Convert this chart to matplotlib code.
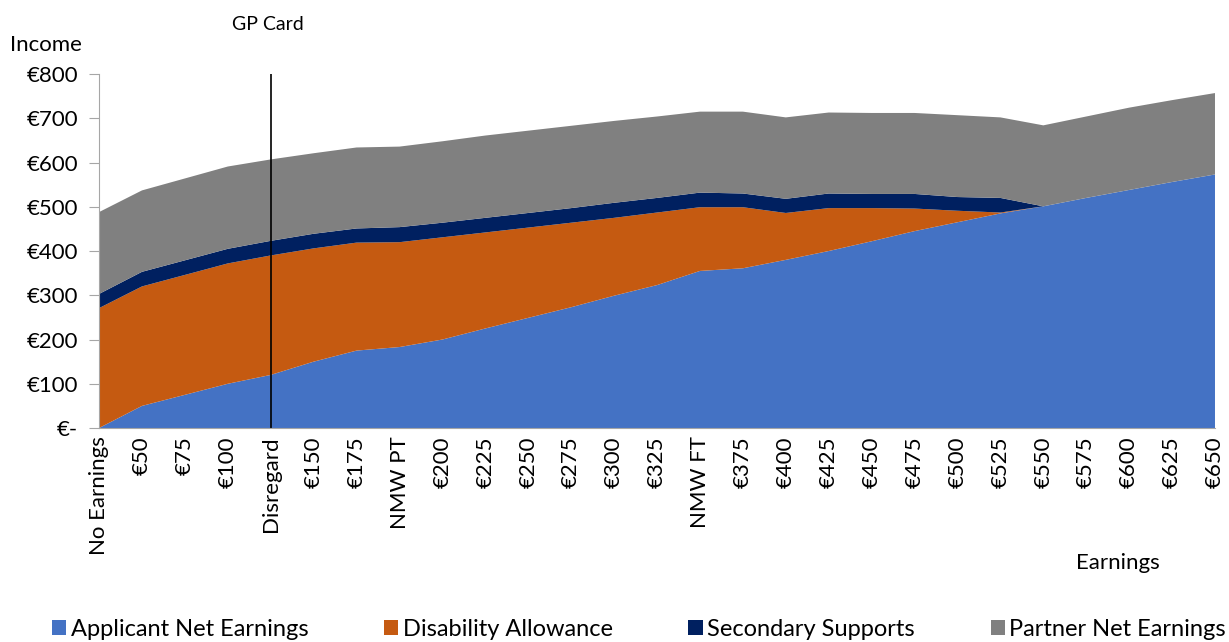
import matplotlib.pyplot as plt
import numpy as np

# Категорії заробітку (вісь X)
categories = ['No Earnings', '€50', '€75', '€100', 'Disregard', '€150', '€175', 'NMW PT',
              '€200', '€225', '€250', '€275', '€300', '€325', 'NMW FT', '€375', '€400',
              '€425', '€450', '€475', '€500', '€525', '€550', '€575', '€600', '€625', '€650']

# Складові доходу
applicant_net = [0, 50, 75, 100, 120, 150, 175, 183, 200, 225, 249, 273, 299, 323, 355, 361,
                 380, 400, 422, 445, 465, 485, 501, 520, 538, 556, 573]
disability_allowance = [271, 270, 271, 272, 270, 256, 244, 237, 231, 217, 204, 191, 176, 164,
                        144, 138, 106, 97, 75, 51, 26, 2, 0, 0, 0, 0, 0]
secondary_supports = [32, 33, 33, 33, 33, 33, 32, 34, 33, 33, 33, 33, 34, 33, 33, 31, 32, 33,
                      32, 33, 31, 33, 0, 0, 0, 0, 0]
partner_net = [185, 184, 185, 186, 184, 182, 183, 182, 184, 186, 186, 186, 185, 184, 183, 185,
               184, 183, 183, 183, 185, 182, 183, 184, 186, 185, 184]

series_names = ['Applicant Net Earnings', 'Disability Allowance', 'Secondary Supports',
                'Partner Net Earnings']
colors = ['#4472C4', '#C55A11', '#002060', '#808080']

plt.rcParams['font.family'] = ['Lato', 'DejaVu Sans']

fig = plt.figure(figsize=(12.29, 6.42), dpi=100)
ax = fig.add_axes([0.0806, 0.3333, 0.9080, 0.5514])

x = np.arange(len(categories))
ax.stackplot(x, applicant_net, disability_allowance, secondary_supports, partner_net,
             colors=colors, labels=series_names, linewidth=0)

# Вертикальна лінія GP Card на рівні Disregard
gp_idx = categories.index('Disregard')
ax.plot([gp_idx, gp_idx], [0, 800], color='black', lw=1.2)

ax.set_xlim(0, len(categories) - 1)
ax.set_ylim(0, 800)
ax.set_xticks(x)
ax.set_xticklabels(categories, rotation=90, fontsize=16)
ax.tick_params(axis='x', length=0, pad=6)
yticks = np.arange(0, 801, 100)
ax.set_yticks(yticks)
ax.set_yticklabels(['€-'] + ['€%d' % v for v in yticks[1:]], fontsize=16)
ax.tick_params(axis='y', length=7, color='#A6A6A6', pad=8)

for side in ['top', 'right']:
    ax.spines[side].set_visible(False)
ax.spines['left'].set_color('#A6A6A6')
ax.spines['bottom'].set_color('#A6A6A6')

fig.text(10 / 1229, 1 - 45 / 642, 'Income', fontsize=16, ha='left', va='center')
fig.text(268 / 1229, 1 - 25 / 642, 'GP Card', fontsize=14, ha='center', va='center')
fig.text(1118 / 1229, 1 - 563 / 642, 'Earnings', fontsize=16, ha='center', va='center')

fig.legend(loc='center', bbox_to_anchor=(639 / 1229, 1 - 629 / 642), ncol=4, frameon=False,
           fontsize=17, handlelength=0.6, handleheight=0.6, handletextpad=0.2,
           columnspacing=3.2)

fig.savefig('out.png', dpi=100)
